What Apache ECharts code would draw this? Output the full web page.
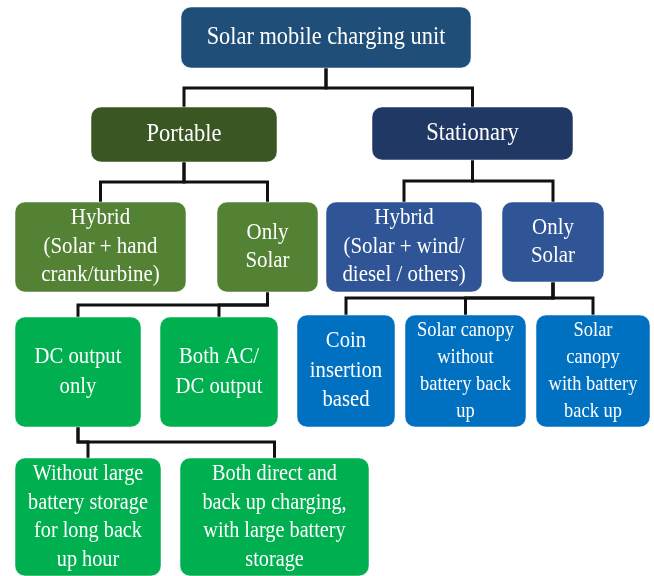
<!DOCTYPE html>
<html>
<head>
<meta charset="utf-8">
<script src="https://cdn.jsdelivr.net/npm/echarts@6/dist/echarts.min.js"></script>
<style>html,body{margin:0;padding:0;background:#fff}#c{width:654px;height:576px}</style>
</head>
<body>
<div id="c"></div>
<script>
// ---- data: node labels and tree structure ----
const nodeLabels = [
  "Solar mobile charging unit",
  "Portable",
  "Stationary",
  "Hybrid\n(Solar + hand\ncrank/turbine)",
  "Only\nSolar",
  "Hybrid\n(Solar + wind/\ndiesel / others)",
  "Only\nSolar",
  "DC output\nonly",
  "Both AC/\nDC output",
  "Coin\ninsertion\nbased",
  "Solar canopy\nwithout\nbattery back\nup",
  "Solar\ncanopy\nwith battery\nback up",
  "Without large\nbattery storage\nfor long back\nup hour",
  "Both direct and\nback up charging,\nwith large battery\nstorage"
];
const nodeParents = [-1, 0, 0, 1, 1, 2, 2, 4, 4, 6, 6, 6, 7, 7];

// ---- layout (diagram geometry, in page pixels) ----
const boxLayout = [
  [181, 471, 7, 68],
  [91, 277, 107, 162],
  [372, 573, 107, 160],
  [15, 186, 202, 292],
  [217, 318, 202, 292],
  [326, 482, 202, 292],
  [502, 604, 202, 282],
  [15, 141, 317, 427],
  [160, 278, 317, 427],
  [297, 395, 315, 427],
  [405, 526, 315, 427],
  [536, 650, 315, 427],
  [15, 161, 458, 576],
  [180, 369, 458, 576]
];
const connectorMidY = {0: 88, 1: 182, 2: 181, 4: 305, 6: 298, 7: 442};

// ---- styles ----
const nodeColors = [
  "#1F4E79", "#3A5723", "#203864",
  "#548235", "#548235", "#2F5597", "#2F5597",
  "#00B050", "#00B050", "#0070C0", "#0070C0", "#0070C0",
  "#00B050", "#00B050"
];
const fontStyles = [
  {size: 26, lh: 30, sx: 0.86},   // 0 root
  {size: 25, lh: 30, sx: 0.9},    // 1 level 1
  {size: 22.5, lh: 28.5, sx: 0.93}, // 2 level 2
  {size: 22.5, lh: 29.5, sx: 0.92}, // 3 level 3 (short texts)
  {size: 21, lh: 27, sx: 0.88},   // 4 level 3 (long texts)
  {size: 22.5, lh: 28.5, sx: 0.9} // 5 level 4
];
const nodeFontStyle = [0, 1, 1, 2, 2, 2, 2, 3, 3, 3, 4, 4, 5, 5];

const edgeData = [];
nodeParents.forEach((p, i) => { if (p >= 0) edgeData.push([p, i]); });
const nodeData = nodeLabels.map((_, i) => [i, 0]);

const chart = echarts.init(document.getElementById('c'), null, {renderer: 'canvas'});
chart.setOption({
  animation: false,
  backgroundColor: '#fff',
  grid: {left: 0, right: 0, top: 0, bottom: 0},
  xAxis: {type: 'value', min: 0, max: 654, show: false},
  yAxis: {type: 'value', min: 0, max: 576, inverse: true, show: false},
  series: [
    {
      type: 'custom',
      coordinateSystem: 'cartesian2d',
      z: 1,
      data: edgeData,
      encode: {x: 0, y: 1},
      renderItem: function (params, api) {
        const p = api.value(0), c = api.value(1);
        const pb = boxLayout[p], cb = boxLayout[c];
        const px = (pb[0] + pb[1]) / 2, cx = (cb[0] + cb[1]) / 2;
        const my = connectorMidY[p];
        const pts = [[px, pb[3]], [px, my], [cx, my], [cx, cb[2]]].map(q => api.coord(q));
        return {
          type: 'polyline',
          shape: {points: pts},
          style: {stroke: '#111', lineWidth: 3, fill: null, lineJoin: 'miter'}
        };
      }
    },
    {
      type: 'custom',
      coordinateSystem: 'cartesian2d',
      z: 2,
      data: nodeData,
      encode: {x: 0, y: 1},
      renderItem: function (params, api) {
        const i = params.dataIndex;
        const b = boxLayout[i];
        const tl = api.coord([b[0], b[2]]);
        const br = api.coord([b[1], b[3]]);
        const f = fontStyles[nodeFontStyle[i]];
        const cx = (tl[0] + br[0]) / 2, cy = (tl[1] + br[1]) / 2;
        return {
          type: 'group',
          children: [
            {
              type: 'rect',
              shape: {x: tl[0], y: tl[1], width: br[0] - tl[0], height: br[1] - tl[1], r: 10},
              style: {fill: nodeColors[i], stroke: 'rgba(255,255,255,0.5)', lineWidth: 1}
            },
            {
              type: 'text',
              x: cx, y: cy,
              scaleX: f.sx,
              style: {
                text: nodeLabels[i],
                x: 0, y: 0,
                fill: '#fff',
                font: f.size + 'px "Liberation Serif", "Times New Roman", serif',
                lineHeight: f.lh,
                align: 'center',
                verticalAlign: 'middle'
              }
            }
          ]
        };
      }
    }
  ]
});
</script>
</body>
</html>
